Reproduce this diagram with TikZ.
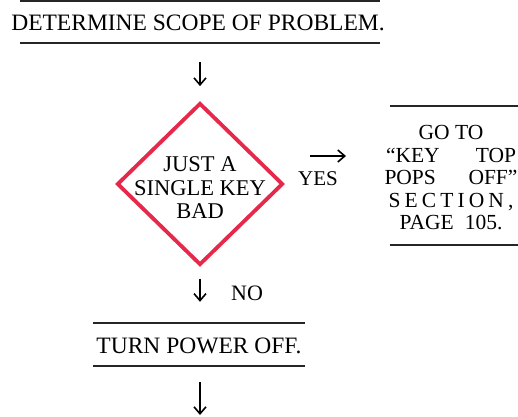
\documentclass[tikz,border=0pt]{standalone}
\usepackage{fontspec}
\setmainfont{Liberation Serif}
\usetikzlibrary{shapes.geometric,arrows.meta}
\definecolor{dred}{RGB}{230,40,75}
\begin{document}
\begin{tikzpicture}[x=1pt,y=-1pt,
  txt/.style={inner sep=0pt, font=\fontsize{23.5}{26}\selectfont},
  rule/.style={line width=2pt, draw=black!85},
  flow/.style={line width=1.6pt, -{Straight Barb[length=7pt,width=12pt,line width=1.6pt]}},
  decision/.style={diamond, draw=dred, line width=3.8pt, minimum width=166pt, minimum height=162pt, inner sep=0pt, aspect=1},
  stepbox/.style={minimum height=42pt, inner sep=0pt}
]
\useasboundingbox (0,0) rectangle (518,416);
% top box
\node[stepbox, minimum width=360pt] (b1) at (200,22) {};
\node[txt] (t1) at (198,23) {DETERMINE SCOPE OF PROBLEM.};
\draw[rule] (b1.north west) -- (b1.north east);
\draw[rule] (b1.south west) -- (b1.south east);
% decision
\node[decision] (d) at (200,184) {};
\node[font=\fontsize{22.5}{23.5}\selectfont, align=center, inner sep=0pt] (dt) at (200,188) {JUST A\\SINGLE KEY\\BAD};
% right box
\node[stepbox, minimum width=128pt, minimum height=139pt] (b2) at (454,175.5) {};
\node[font=\fontsize{21.5}{22.5}\selectfont, inner sep=0pt, align=center] (t2) at (451,178) {%
  GO TO\\
  \makebox[130pt][s]{``KEY\hfill TOP}\\
  \makebox[133pt][s]{POPS\hfill OFF''}\\
  \makebox[125pt][s]{S\hfill E\hfill C\hfill T\hfill I\hfill O\hfill N\hfill ,}\\
  \makebox[103pt][s]{PAGE\hfill 105.}};
\draw[rule] (b2.north west) -- (b2.north east);
\draw[rule] (b2.south west) -- (b2.south east);
% yes
\coordinate (ya) at (310,156);
\coordinate (yb) at (346,156);
\draw[flow] (ya) -- (yb);
\node[font=\fontsize{21}{24}\selectfont, inner sep=0pt] (yes) at (318,179) {YES};
% bottom box
\node[stepbox, minimum width=212pt, minimum height=43pt] (b3) at (199,344.5) {};
\node[txt] (t3) at (199,346) {TURN POWER OFF.};
\draw[rule] (b3.north west) -- (b3.north east);
\draw[rule] (b3.south west) -- (b3.south east);
% no
\node[font=\fontsize{22}{24}\selectfont, inner sep=0pt] (no) at (247,293) {NO};
% arrows
\draw[flow, shorten <=19pt, shorten >=15pt] (b1.south -| d.north) -- (d.north);
\draw[flow, shorten <=12pt, shorten >=21pt] (d.south) -- (d.south |- b3.north);
\coordinate (end) at (200,415);
\draw[flow, shorten <=16pt] (b3.south -| end) -- (end);
\end{tikzpicture}
\end{document}
